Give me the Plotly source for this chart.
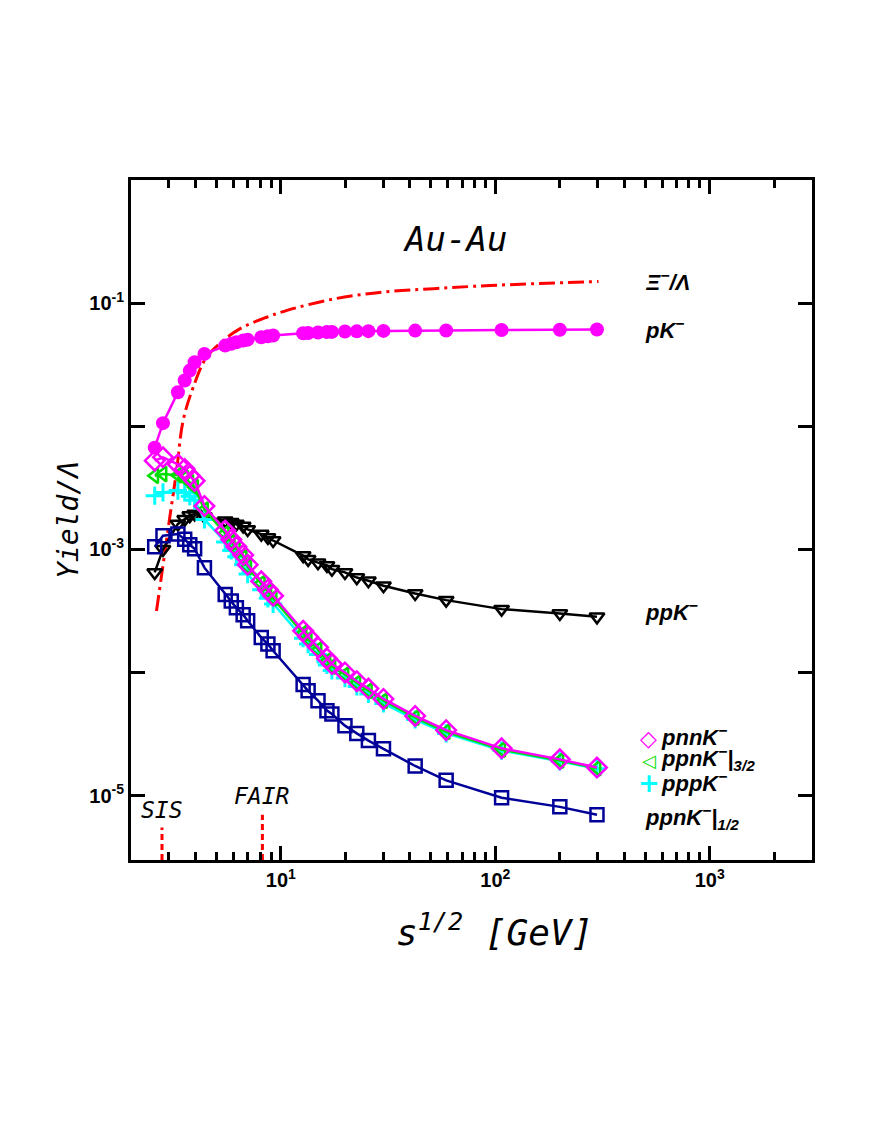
import plotly.graph_objects as go

# thermal-model yields relative to Lambda vs collision energy, Au-Au

sqrt_s = [2.58, 2.82, 3.31, 3.56, 3.76, 3.96, 4.4, 5.5, 5.87, 6.2, 6.67, 7.0, 8.1, 8.7, 9.2,
          12.7, 13.4, 14.9, 16.4, 17.3, 19.9, 22.6, 25.6, 30.1, 42.3, 59, 107, 200, 298]

pK = [6.7e-3, 1.06e-2, 1.89e-2, 2.35e-2, 2.83e-2, 3.31e-2, 3.87e-2, 4.52e-2, 4.67e-2, 4.81e-2,
      4.96e-2, 5.05e-2, 5.28e-2, 5.38e-2, 5.46e-2, 5.69e-2, 5.72e-2, 5.78e-2, 5.82e-2, 5.84e-2,
      5.88e-2, 5.9e-2, 5.92e-2, 5.95e-2, 5.98e-2, 6.0e-2, 6.05e-2, 6.08e-2, 6.1e-2]

pnnK = [5.25e-3, 5.6e-3, 4.9e-3, 4.5e-3, 3.97e-3, 3.6e-3, 2.25e-3, 1.42e-3, 1.2e-3, 1.05e-3,
        9.0e-4, 7.5e-4, 5.5e-4, 4.7e-4, 4.2e-4, 2.18e-4, 1.95e-4, 1.6e-4, 1.3e-4, 1.17e-4,
        1.0e-4, 8.5e-5, 7.4e-5, 6.1e-5, 4.44e-5, 3.4e-5, 2.42e-5, 1.97e-5, 1.69e-5]

ppnK_32 = [3.96e-3, 4.09e-3, 4.0e-3, 3.8e-3, 3.5e-3, 3.2e-3, 2.1e-3, 1.35e-3, 1.14e-3, 1.0e-3,
           8.6e-4, 7.2e-4, 5.3e-4, 4.5e-4, 4.0e-4, 2.08e-4, 1.86e-4, 1.53e-4, 1.24e-4, 1.12e-4,
           9.6e-5, 8.2e-5, 7.1e-5, 5.9e-5, 4.3e-5, 3.3e-5, 2.37e-5, 1.93e-5, 1.67e-5]

pppK = [2.73e-3, 2.9e-3, 3.0e-3, 2.9e-3, 2.7e-3, 2.5e-3, 1.75e-3, 1.15e-3, 9.8e-4, 8.7e-4,
        7.5e-4, 6.3e-4, 4.7e-4, 4.0e-4, 3.6e-4, 1.9e-4, 1.7e-4, 1.4e-4, 1.15e-4, 1.04e-4,
        9.0e-5, 7.7e-5, 6.7e-5, 5.6e-5, 4.15e-5, 3.2e-5, 2.32e-5, 1.9e-5, 1.65e-5]

ppK = [6.5e-4, 1.0e-3, 1.61e-3, 1.76e-3, 1.88e-3, 1.94e-3, 1.85e-3, 1.71e-3, 1.66e-3, 1.61e-3,
       1.55e-3, 1.45e-3, 1.33e-3, 1.25e-3, 1.18e-3, 8.9e-4, 8.3e-4, 7.8e-4, 7.4e-4, 6.9e-4,
       6.5e-4, 5.9e-4, 5.56e-4, 5.06e-4, 4.38e-4, 3.87e-4, 3.27e-4, 3.01e-4, 2.83e-4]

ppnK_12 = [1.05e-3, 1.29e-3, 1.33e-3, 1.21e-3, 1.09e-3, 1.01e-3, 7.1e-4, 4.3e-4, 3.8e-4, 3.35e-4,
           2.95e-4, 2.63e-4, 1.92e-4, 1.7e-4, 1.5e-4, 8.0e-5, 7.1e-5, 5.9e-5, 4.9e-5, 4.6e-5,
           3.7e-5, 3.2e-5, 2.8e-5, 2.4e-5, 1.74e-5, 1.33e-5, 9.6e-6, 8.1e-6, 7.0e-6]

xi_sqrt_s = [2.63, 2.87, 3.03, 3.26, 3.5, 3.9, 4.5, 5.38, 6.43, 8.58, 10.6, 17.6, 30.1, 51.6, 94.5, 303]
xi_lambda = [3.16e-4, 9.2e-4, 1.8e-3, 4.3e-3, 1.11e-2, 2.07e-2, 3.63e-2, 4.96e-2, 6.18e-2, 7.68e-2,
             8.7e-2, 0.108, 0.123, 0.131, 0.139, 0.150]

facility_names = ["SIS", "FAIR"]
facility_sqrt_s = [2.79, 8.2]
facility_top = [5.5e-6, 7.0e-6]

y_min = 3e-6

LABEL_FONT = dict(family="Liberation Sans", size=22, color="black", weight="bold", style="italic")
HIGZ_FONT = "DejaVu Sans Mono"

fig = go.Figure()

fig.add_trace(go.Scatter(x=xi_sqrt_s, y=xi_lambda, mode="lines",
                         line=dict(color="#ff0000", width=3, dash="16px,5px,3px,5px",
                                   shape="spline", smoothing=1.0)))

series = [
    (pK, "#ff00ff", "circle", 14, 0),
    (ppK, "black", "triangle-down-open", 13, 2.5),
    (pppK, "#00ffff", "cross-thin-open", 13, 3),
    (ppnK_32, "#00dd00", "triangle-left-open", 13, 2.5),
    (pnnK, "#ff00ff", "diamond-open", 15, 2.5),
    (ppnK_12, "#000099", "square-open", 13, 2.5),
]
for yv, col, sym, size, lw in series:
    fig.add_trace(go.Scatter(
        x=sqrt_s, y=yv, mode="lines+markers",
        line=dict(color=col, width=2.5),
        marker=dict(symbol=sym, size=size, color=col, line=dict(color=col, width=lw)),
    ))

for name, e, top in zip(facility_names, facility_sqrt_s, facility_top):
    fig.add_trace(go.Scatter(x=[e, e], y=[y_min, top], mode="lines",
                             line=dict(color="#ff0000", width=3, dash="6px,4px")))

minor_x = [m * 10 ** d for d in range(0, 4) for m in range(2, 10) if m * 10 ** d <= 3000]

fig.update_xaxes(
    type="log", range=[0.30103, 3.4771],
    tickvals=[10, 100, 1000],
    ticktext=["10<sup>1</sup>", "10<sup>2</sup>", "10<sup>3</sup>"],
    ticks="inside", ticklen=14, tickwidth=2.5, tickcolor="black",
    minor=dict(tickvals=minor_x, ticks="inside", ticklen=8, tickwidth=2.5, tickcolor="black"),
    showline=True, linecolor="black", linewidth=3, mirror="ticks",
    showgrid=False, zeroline=False,
    tickfont=dict(family="Liberation Sans", size=20, color="black", weight="bold"),
)
fig.update_yaxes(
    type="log", range=[-5.523, 0],
    tickvals=[1e-5, 1e-4, 1e-3, 1e-2, 1e-1, 1],
    ticktext=["10<sup>-5</sup>", "", "10<sup>-3</sup>", "", "10<sup>-1</sup>", ""],
    ticks="inside", ticklen=14, tickwidth=2.5, tickcolor="black",
    showline=True, linecolor="black", linewidth=3, mirror="ticks",
    showgrid=False, zeroline=False,
    tickfont=dict(family="Liberation Sans", size=20, color="black", weight="bold"),
)

ann = [
    dict(x=0.476, y=0.913, text="Au-Au", xanchor="center",
         font=dict(family=HIGZ_FONT, size=34, color="black", style="italic")),
    dict(x=0.752, y=0.851, text="Ξ<sup>−</sup>/Λ", xanchor="left", font=LABEL_FONT),
    dict(x=0.752, y=0.781, text="pK<sup>−</sup>", xanchor="left", font=LABEL_FONT),
    dict(x=0.752, y=0.366, text="ppK<sup>−</sup>", xanchor="left", font=LABEL_FONT),
    dict(x=0.760, y=0.178, text="◇", xanchor="center",
         font=dict(family="DejaVu Sans", size=22, color="#ff00ff", weight="bold")),
    dict(x=0.776, y=0.182, text="pnnK<sup>−</sup>", xanchor="left", font=LABEL_FONT),
    dict(x=0.760, y=0.147, text="◁", xanchor="center",
         font=dict(family="DejaVu Sans", size=18, color="#00dd00", weight="bold")),
    dict(x=0.776, y=0.150, text="ppnK<sup>−</sup>|<sub>3/2</sub>", xanchor="left", font=LABEL_FONT),
    dict(x=0.760, y=0.113, text="+", xanchor="center",
         font=dict(family="DejaVu Sans", size=26, color="#00ffff", weight="bold")),
    dict(x=0.776, y=0.115, text="pppK<sup>−</sup>", xanchor="left", font=LABEL_FONT),
    dict(x=0.752, y=0.062, text="ppnK<sup>−</sup>|<sub>1/2</sub>", xanchor="left", font=LABEL_FONT),
    dict(x=0.0455, y=0.0735, text="SIS", xanchor="center",
         font=dict(family=HIGZ_FONT, size=23, color="black", style="italic")),
    dict(x=0.192, y=0.094, text="FAIR", xanchor="center",
         font=dict(family=HIGZ_FONT, size=23, color="black", style="italic")),
    dict(x=-0.0925, y=0.5, text="Yield/Λ", textangle=-90, xanchor="center",
         font=dict(family=HIGZ_FONT, size=28, color="black", style="italic")),
    dict(x=0.534, y=-0.103, text="s<sup>1/2</sup> [GeV]", xanchor="center",
         font=dict(family=HIGZ_FONT, size=36, color="black", style="italic")),
]
for a in ann:
    a.update(xref="paper", yref="paper", showarrow=False, yanchor="middle")

# page body adds ~8px margin, so the figure is a bit smaller than the window
fig.update_layout(
    width=864, height=1120,
    margin=dict(l=123, r=60, t=172, b=268),
    paper_bgcolor="white", plot_bgcolor="white",
    showlegend=False,
    annotations=ann,
)

fig.write_html("out.html")
